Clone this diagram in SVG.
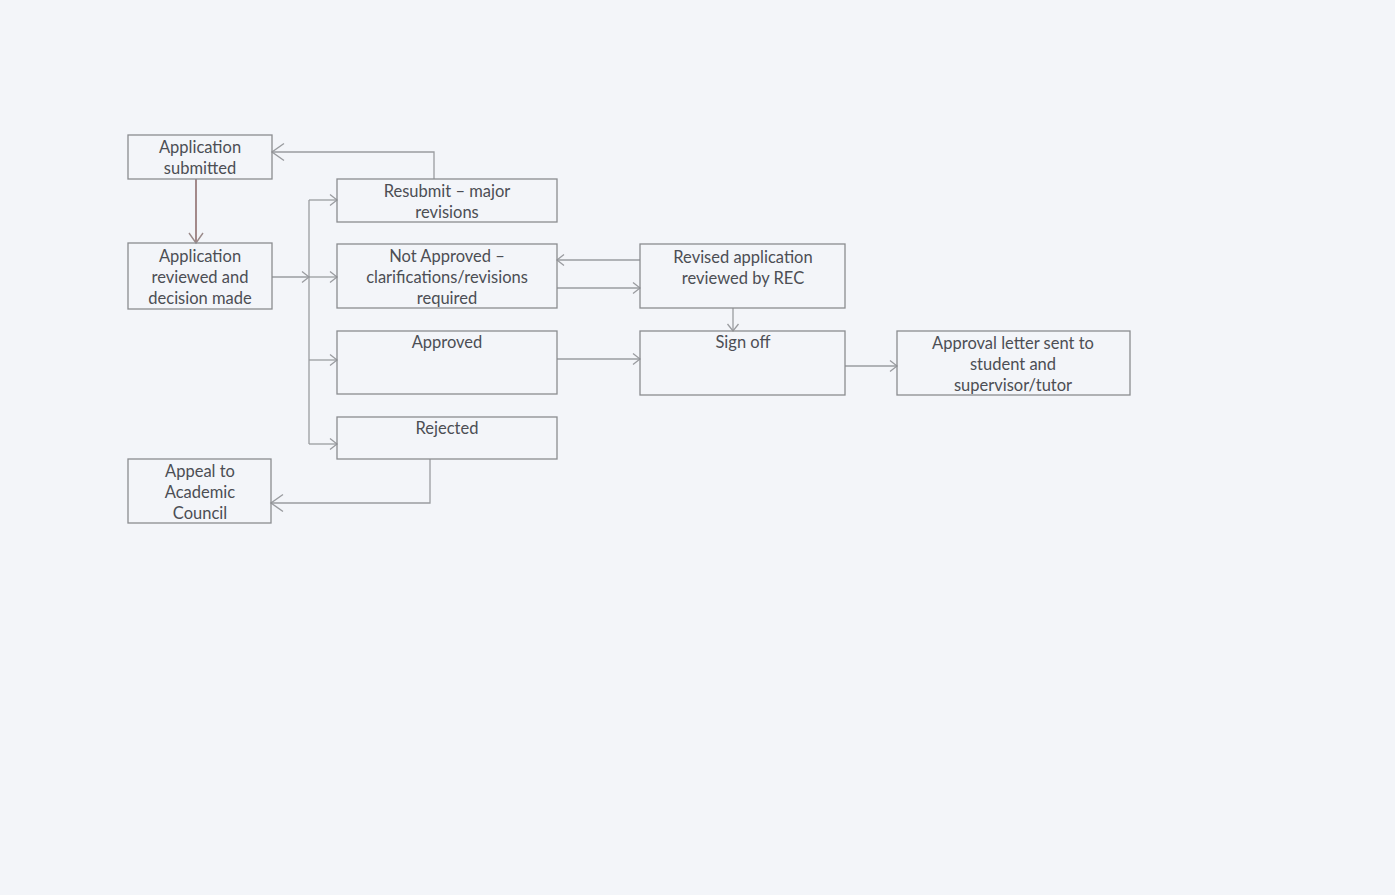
<svg xmlns="http://www.w3.org/2000/svg" width="1395" height="895" viewBox="0 0 1395 895">
<style>
.box{fill:none;stroke:#8a8c90;stroke-width:1.3}
.t{font-family:Lato,"Open Sans","Liberation Sans",sans-serif;font-size:16.5px;fill:#4c4e54;text-anchor:middle}
.c{fill:none;stroke:#9a9ca0;stroke-width:1.3}
</style>
<defs>
<marker id="a" markerUnits="userSpaceOnUse" markerWidth="14" markerHeight="14" refX="10" refY="7" orient="auto">
<path d="M3,1.5 L10,7 L3,12.5" fill="none" stroke="#9a9ca0" stroke-width="1.3"/>
</marker>
<marker id="b" markerUnits="userSpaceOnUse" markerWidth="20" markerHeight="20" refX="16" refY="10" orient="auto">
<path d="M4,1.5 L16,10 L4,18.5" fill="none" stroke="#9a9ca0" stroke-width="1.4"/>
</marker>
<marker id="r" markerUnits="userSpaceOnUse" markerWidth="18" markerHeight="18" refX="14" refY="9" orient="auto">
<path d="M4,2 L14,9 L4,16" fill="none" stroke="#9a8a8a" stroke-width="1.4"/>
</marker>
</defs>
<rect width="1395" height="895" fill="#f3f5f9"/>
<g id="connectors">
<line x1="196" y1="179" x2="196" y2="243" style="fill:none;stroke:#9a7e7e;stroke-width:1.8" marker-end="url(#r)"/>
<polyline class="c" points="434,179 434,152 272,152" marker-end="url(#b)"/>
<line class="c" x1="272" y1="277" x2="309" y2="277" marker-end="url(#a)"/>
<line class="c" x1="309" y1="277" x2="337" y2="277" marker-end="url(#a)"/>
<line class="c" x1="309" y1="200" x2="309" y2="444"/>
<line class="c" x1="309" y1="200" x2="337" y2="200" marker-end="url(#a)"/>
<line class="c" x1="309" y1="360" x2="337" y2="360" marker-end="url(#a)"/>
<line class="c" x1="309" y1="444" x2="337" y2="444" marker-end="url(#a)"/>
<line class="c" x1="640" y1="260" x2="557" y2="260" marker-end="url(#a)"/>
<line class="c" x1="557" y1="288" x2="640" y2="288" marker-end="url(#a)"/>
<line class="c" x1="733" y1="308" x2="733" y2="331" marker-end="url(#a)"/>
<line class="c" x1="557" y1="359" x2="640" y2="359" marker-end="url(#a)"/>
<line class="c" x1="845" y1="366" x2="897" y2="366" marker-end="url(#a)"/>
<polyline class="c" points="430,459 430,503 271,503" marker-end="url(#b)"/>
</g>
<g id="n1"><rect class="box" x="128" y="135" width="144" height="44"/><text class="t" x="200" y="153">Application</text><text class="t" x="200" y="174">submitted</text></g>
<g id="n2"><rect class="box" x="128" y="243" width="144" height="66"/><text class="t" x="200" y="262">Application</text><text class="t" x="200" y="283">reviewed and</text><text class="t" x="200" y="304">decision made</text></g>
<g id="n3"><rect class="box" x="337" y="179" width="220" height="43"/><text class="t" x="447" y="197">Resubmit – major</text><text class="t" x="447" y="218">revisions</text></g>
<g id="n4"><rect class="box" x="337" y="244" width="220" height="64"/><text class="t" x="447" y="262">Not Approved –</text><text class="t" x="447" y="283">clarifications/revisions</text><text class="t" x="447" y="304">required</text></g>
<g id="n5"><rect class="box" x="337" y="331" width="220" height="63"/><text class="t" x="447" y="348">Approved</text></g>
<g id="n6"><rect class="box" x="337" y="417" width="220" height="42"/><text class="t" x="447" y="434">Rejected</text></g>
<g id="n7"><rect class="box" x="128" y="459" width="143" height="64"/><text class="t" x="200" y="477">Appeal to</text><text class="t" x="200" y="498">Academic</text><text class="t" x="200" y="519">Council</text></g>
<g id="n8"><rect class="box" x="640" y="244" width="205" height="64"/><text class="t" x="743" y="263">Revised application</text><text class="t" x="743" y="284">reviewed by REC</text></g>
<g id="n9"><rect class="box" x="640" y="331" width="205" height="64"/><text class="t" x="743" y="348">Sign off</text></g>
<g id="n10"><rect class="box" x="897" y="331" width="233" height="64"/><text class="t" x="1013" y="349">Approval letter sent to</text><text class="t" x="1013" y="370">student and</text><text class="t" x="1013" y="391">supervisor/tutor</text></g>
</svg>
